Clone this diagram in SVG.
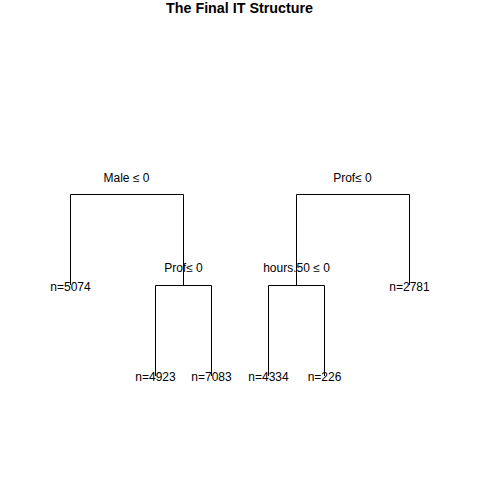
<svg xmlns="http://www.w3.org/2000/svg" width="480" height="480" viewBox="0 0 480 480">
<style>
.t{font-family:"Liberation Sans",Arial,sans-serif;font-size:12px;fill:#000;text-anchor:middle}
.title{font-family:"Liberation Sans",Arial,sans-serif;font-size:14.3px;font-weight:bold;fill:#000;text-anchor:middle}
.e{fill:none;stroke:#000;stroke-width:1}
</style>
<rect width="480" height="480" fill="#fff"/>
<text class="title" x="239.5" y="13">The Final IT Structure</text>
<g id="connectors">
<path class="e" d="M70.5,285 V194.5 H183.5 V285.5"/>
<path class="e" d="M155.5,376 V285.5 H211.5 V376"/>
<path class="e" d="M296.5,285.5 V194.5 H409.5 V285"/>
<path class="e" d="M268.5,376 V285.5 H324.5 V376"/>
</g>
<g id="n1"><text class="t" x="126.5" y="182">Male ≤ 0</text></g>
<g id="n2"><text class="t" x="352.5" y="182">Prof≤ 0</text></g>
<g id="n3"><text class="t" x="183.5" y="272">Prof≤ 0</text></g>
<g id="n4"><text class="t" x="296.5" y="272">hours.50 ≤ 0</text></g>
<g id="l1"><text class="t" x="70.5" y="291">n=5074</text></g>
<g id="l2"><text class="t" x="409.5" y="291">n=2781</text></g>
<g id="l3"><text class="t" x="155.5" y="381">n=4923</text></g>
<g id="l4"><text class="t" x="211.5" y="381">n=7083</text></g>
<g id="l5"><text class="t" x="268.5" y="381">n=4334</text></g>
<g id="l6"><text class="t" x="324.5" y="381">n=226</text></g>
</svg>
